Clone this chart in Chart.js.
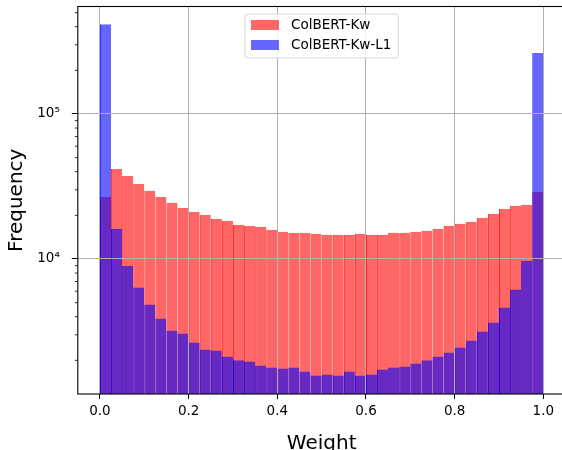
<!DOCTYPE html>
<html>
<head>
<meta charset="utf-8">
<title>Weight histogram</title>
<script src="https://cdn.jsdelivr.net/npm/chart.js@4.4.1/dist/chart.umd.min.js"></script>
<style>
    html, body { margin: 0; padding: 0; background: #fff; overflow: hidden; }
    #wrap { width: 562px; height: 450px; overflow: hidden; }
</style>
</head>
<body>
<div id="wrap"><canvas id="histChart" width="570" height="450"></canvas></div>
<script>
// 40 bins over [0, 1]
const BIN_WIDTH = 0.025;

const seriesLabels = ['ColBERT-Kw', 'ColBERT-Kw-L1'];

const colbertKw = [
    26800, 41800, 37400, 32950, 29500, 26800, 24400, 22500, 21200, 20200,
    18900, 18350, 17200, 16900, 16700, 15900, 15400, 15200, 15200, 14950,
    14700, 14700, 14700, 14950, 14700, 14700, 15200, 15200, 15400, 15650,
    16150, 16950, 17500, 18050, 19250, 20500, 22200, 23300, 23650, 29000
];

const colbertKwL1 = [
    416000, 16150, 9000, 6350, 4850, 3880, 3210, 3060, 2650, 2380,
    2340, 2130, 2000, 1960, 1845, 1785, 1760, 1785, 1675, 1575,
    1600, 1575, 1675, 1575, 1600, 1730, 1785, 1815, 1900, 2000,
    2130, 2265, 2450, 2740, 3160, 3645, 4620, 6150, 9730, 263000
];

const xTickValues = [0, 0.2, 0.4, 0.6, 0.8, 1.0];
const yMajorTicks = [1e4, 1e5];
const yMinorTicks = [2e3, 3e3, 4e3, 5e3, 6e3, 7e3, 8e3, 9e3,
                     2e4, 3e4, 4e4, 5e4, 6e4, 7e4, 8e4, 9e4,
                     2e5, 3e5, 4e5, 5e5];

const binCenters = colbertKw.map((_, i) => (i + 0.5) * BIN_WIDTH);

const RED = 'rgba(255, 0, 0, 0.6)';
const BLUE = 'rgba(0, 0, 255, 0.6)';
const FONT = '"DejaVu Sans", sans-serif';
const SUP = { '0': '⁰', '1': '¹', '2': '²', '3': '³', '4': '⁴', '5': '⁵', '6': '⁶', '7': '⁷', '8': '⁸', '9': '⁹' };

// frame, minor ticks and the legend box
const extrasPlugin = {
    id: 'extras',
    afterDraw(chart) {
        const { ctx, chartArea: a } = chart;
        const y = chart.scales.y;
        ctx.save();

        ctx.strokeStyle = '#000';
        ctx.lineWidth = 0.8;
        yMinorTicks.forEach(v => {
            const py = y.getPixelForValue(v);
            ctx.beginPath();
            ctx.moveTo(a.left - 3, py);
            ctx.lineTo(a.left, py);
            ctx.stroke();
        });

        ctx.lineWidth = 1.1;
        ctx.strokeRect(a.left, a.top, a.right - a.left, a.bottom - a.top);

        // legend
        ctx.font = '13.5px ' + FONT;
        const textW = Math.max(...seriesLabels.map(t => ctx.measureText(t).width));
        const boxW = 6 + 28 + 12 + textW + 7;
        const boxH = 44;
        const bx = (a.left + a.right) / 2 - boxW / 2;
        const by = a.top + 7.5;
        ctx.beginPath();
        ctx.roundRect(bx, by, boxW, boxH, 3);
        ctx.fillStyle = 'rgba(255, 255, 255, 0.8)';
        ctx.fill();
        ctx.strokeStyle = '#d6d6d6';
        ctx.lineWidth = 1;
        ctx.stroke();

        [RED, BLUE].forEach((c, i) => {
            const cy = by + 11 + i * 20;
            ctx.fillStyle = c;
            ctx.fillRect(bx + 6, cy - 5, 28, 10);
            ctx.fillStyle = '#000';
            ctx.textBaseline = 'middle';
            ctx.textAlign = 'left';
            ctx.fillText(seriesLabels[i], bx + 46, cy + 0.5);
        });
        ctx.restore();
    }
};

const ctx = document.getElementById('histChart').getContext('2d');
new Chart(ctx, {
    type: 'bar',
    data: {
        datasets: [
            {
                label: seriesLabels[0],
                data: binCenters.map((x, i) => ({ x, y: colbertKw[i] })),
                backgroundColor: RED,
                borderColor: 'rgba(255, 0, 0, 0.85)',
                borderWidth: { left: 1, right: 0, top: 0, bottom: 0 },
                order: 2
            },
            {
                label: seriesLabels[1],
                data: binCenters.map((x, i) => ({ x, y: colbertKwL1[i] })),
                backgroundColor: BLUE,
                borderColor: 'rgba(0, 0, 255, 0.85)',
                borderWidth: { left: 1, right: 0, top: 0, bottom: 0 },
                order: 1
            }
        ]
    },
    options: {
        responsive: false,
        devicePixelRatio: 1,
        animation: false,
        grouped: false,
        barPercentage: 1,
        categoryPercentage: 1,
        inflateAmount: 0,
        layout: { padding: { top: 6.5, right: 4.5, bottom: 0, left: 0 } },
        plugins: {
            legend: { display: false },
            tooltip: { enabled: false }
        },
        scales: {
            x: {
                type: 'linear',
                min: -0.05,
                max: 1.05,
                offset: false,
                border: { display: false },
                grid: { offset: false, z: 1, color: '#b0b0b0', lineWidth: 1, tickColor: '#000', tickLength: 5 },
                afterBuildTicks: s => { s.ticks = xTickValues.map(v => ({ value: v })); },
                afterFit: s => {
                    s.height = 56;
                    s.paddingLeft = 0;
                    s.paddingRight = 0;
                },
                ticks: {
                    autoSkip: false,
                    maxRotation: 0,
                    padding: 4,
                    color: '#000',
                    font: { family: FONT, size: 13.5 },
                    callback: v => Number(v).toFixed(1)
                },
                title: {
                    display: true,
                    text: 'Weight',
                    color: '#000',
                    font: { family: FONT, size: 20 },
                    padding: { top: 0, bottom: -6 }
                }
            },
            y: {
                type: 'logarithmic',
                min: 1172,
                max: 551300,
                border: { display: false },
                grid: { z: 1, color: '#b0b0b0', lineWidth: 1, tickColor: '#000', tickLength: 6 },
                afterBuildTicks: s => { s.ticks = yMajorTicks.map(v => ({ value: v })); },
                afterFit: s => {
                    s.width = 77.8;
                    s.paddingTop = 0;
                    s.paddingBottom = 0;
                },
                ticks: {
                    autoSkip: false,
                    padding: 12,
                    color: '#000',
                    font: { family: FONT, size: 13.5 },
                    callback: v => '10' + String(Math.round(Math.log10(v))).split('').map(d => SUP[d]).join('')
                },
                title: {
                    display: true,
                    text: 'Frequency',
                    color: '#000',
                    font: { family: FONT, size: 20 },
                    padding: { top: 5, bottom: 0 }
                }
            }
        }
    },
    plugins: [extrasPlugin]
});
</script>
</body>
</html>
